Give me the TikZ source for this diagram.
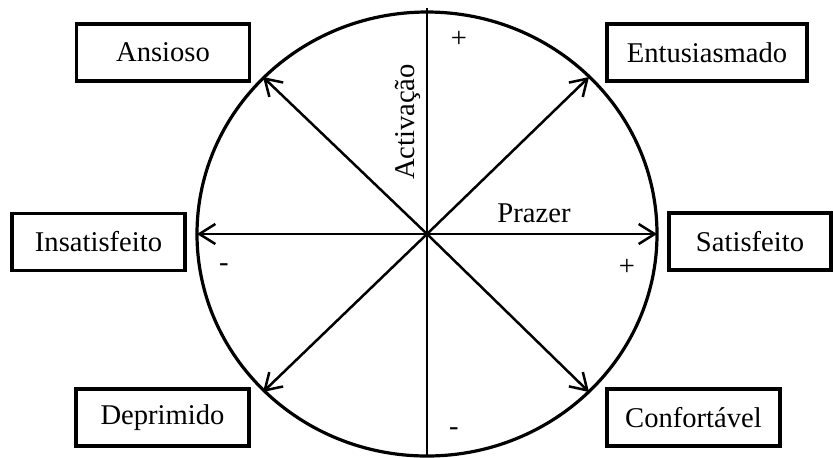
\documentclass[tikz,border=0pt]{standalone}
\usepackage{fontspec}
\setmainfont{Liberation Serif}
\usepackage{tikz}
\usetikzlibrary{arrows.meta, positioning, calc}

\begin{document}
\begin{tikzpicture}[x=0.5pt, y=-0.5pt,
    font=\fontsize{14.3}{17}\selectfont,
    mood/.style={draw=black, line width=1.6pt, rectangle, minimum height=28.5pt,
                 inner sep=0pt, align=center},
    axis/.style={line width=1.25pt, -{Straight Barb[length=8pt, width=10pt]}}]
    
    % Frame
    \useasboundingbox (0,0) rectangle (833,457);
    
    % Circle and centre
    \coordinate (c) at (427,234);
    \draw[line width=1.6pt] (c) ellipse [x radius=230, y radius=222];
    \coordinate (top) at (427,8);
    \coordinate (bot) at (427,457);
    \draw[line width=1.25pt] (top) -- (bot);
    
    % Arrow ends on the circle
    \coordinate (pW)  at (197,234);
    \coordinate (pE)  at (657,234);
    \coordinate (pNW) at (263,77);
    \coordinate (pNE) at (589,77);
    \coordinate (pSW) at (263,392);
    \coordinate (pSE) at (589,392);
    \foreach \p in {pW, pE, pNW, pNE, pSW, pSE}
      \draw[axis] (c) -- (\p);
    
    % Mood boxes
    \node[mood, minimum width=86.5pt] (ansioso)      at (163,52.5)  {Ansioso};
    \node[mood, minimum width=100pt]  (entusiasmado) at (707,52.5)  {Entusiasmado};
    \node[mood, minimum width=86.5pt] (insatisfeito) at (98.5,242)  {Insatisfeito};
    \node[mood, minimum width=81pt]   (satisfeito)   at (750,241.5) {Satisfeito};
    \node[mood, minimum width=86.5pt] (deprimido)    at (162.5,417.5) {Deprimido};
    \node[mood, minimum width=86.5pt] (confortavel)  at (693.5,417.5) {Confortável};
    
    % Axis labels
    \node[rotate=90] (activ) at (408,122) {Activação};
    \node (prazer) at (534,213) {Prazer};
    \node (plusA)  at (459,39)  {+};
    \node (minusA) at (454,432) {-};
    \node (minusP) at (224,268) {-};
    \node (plusP)  at (627,267) {+};
    
\end{tikzpicture}
\end{document}
